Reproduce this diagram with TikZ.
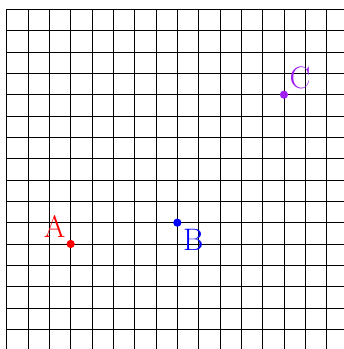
\documentclass[tikz,border=0pt]{standalone}
\usetikzlibrary{positioning}
\definecolor{cpurple}{RGB}{160,32,240}
\tikzset{
  gridline/.style={draw=black, line width=0.6pt},
  dot/.style={circle, fill=#1, inner sep=0pt, minimum size=5.5pt},
  ptlabel/.style={text=#1, font=\huge, inner sep=0pt}
}
\begin{document}
\begin{tikzpicture}[x=0.5cm,y=0.5cm]
  \useasboundingbox (-0.314,-0.924) rectangle (15.81,15.44);
  \clip (-0.314,-0.924) rectangle (15.81,15.44);
  \draw[gridline, step=0.5cm] (0,-1) grid (16,15);
  \node[dot=red] (A) at (3,4) {};
  \node[dot=blue] (B) at (8,5) {};
  \node[dot=cpurple] (C) at (13,11) {};
  \node[ptlabel=red] (la) at (2.25,4.8) {A};
  \node[ptlabel=blue] (lb) at (8.75,4.2) {B};
  \node[ptlabel=cpurple] (lc) at (13.75,11.78) {C};
\end{tikzpicture}
\end{document}
